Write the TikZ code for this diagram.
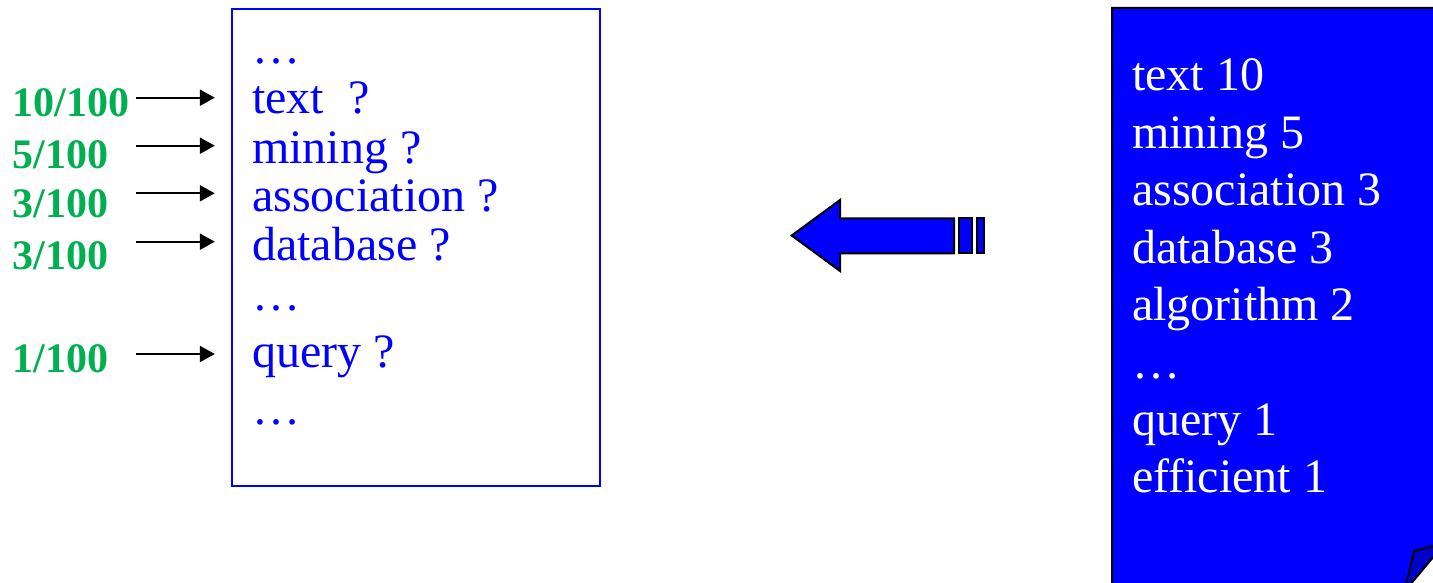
\documentclass[tikz,border=0pt]{standalone}
\usepackage{fontspec}
\setmainfont{Liberation Serif}
\usepackage{tikz}
\usetikzlibrary{arrows.meta,positioning,calc}
\definecolor{wordBlue}{RGB}{0, 0, 255}
\definecolor{foldBlue}{RGB}{0, 0, 200}
\definecolor{freqGreen}{RGB}{0, 176, 80}

\tikzset{
  word/.style={anchor=base west, inner sep=0pt, text=wordBlue, font=\fontsize{48pt}{48pt}\selectfont},
  count/.style={anchor=base west, inner sep=0pt, text=white, font=\fontsize{48pt}{48pt}\selectfont},
  prob/.style={anchor=base west, inner sep=0pt, text=freqGreen, font=\fontsize{42pt}{42pt}\selectfont\bfseries},
  ptr/.style={draw=black, line width=2.3pt, -{Triangle[length=15pt,width=16pt]}},
}

\begin{document}
\begin{tikzpicture}[x=1pt, y=-1pt]
  \useasboundingbox (0,0) rectangle (1433,583);
  \begin{scope}
    \clip (0,0) rectangle (1433,583);

    % vocabulary box
    \draw[wordBlue, line width=1.6pt] (232,9) rectangle (600,486);
    \node (box) at (416,247.5) [minimum width=368pt, minimum height=477pt, inner sep=0pt] {};

    \node[word] (d1) at (252,64) {…};
    \node[word] (w1) at (252,113.3) {text\ \ ?};
    \node[word] (w2) at (252,163.3) {mining ?};
    \node[word] (w3) at (252,211.7) {association ?};
    \node[word] (w4) at (252,260) {database ?};
    \node[word] (d2) at (252,310) {…};
    \node[word] (w5) at (252,367) {query ?};
    \node[word] (d3) at (252,424) {…};

    % estimated probabilities
    \node[prob] (p1) at (12.5,116.7) {10/100};
    \node[prob] (p2) at (12.5,168) {5/100};
    \node[prob] (p3) at (12.5,218) {3/100};
    \node[prob] (p4) at (12.5,269) {3/100};
    \node[prob] (p5) at (12.5,372) {1/100};

    \coordinate (s1) at (136,97.7);
    \coordinate (s2) at (136,145.7);
    \coordinate (s3) at (136,193.3);
    \coordinate (s4) at (136,241.7);
    \coordinate (s5) at (136,354);
    \draw[ptr] (s1) -- (s1 -| box.west) [shorten >=17pt];
    \draw[ptr] (s2) -- (s2 -| box.west) [shorten >=17pt];
    \draw[ptr] (s3) -- (s3 -| box.west) [shorten >=17pt];
    \draw[ptr] (s4) -- (s4 -| box.west) [shorten >=17pt];
    \draw[ptr] (s5) -- (s5 -| box.west) [shorten >=17pt];

    % block arrow
    \draw[fill=wordBlue, line width=2pt, line join=miter]
      (791.7,235.5) -- (840,200) -- (840,218.3) -- (954,218.3) -- (954,253.3)
      -- (840,253.3) -- (840,271) -- cycle;
    \draw[fill=wordBlue, line width=2pt] (959.3,218.3) rectangle (972,253.3);
    \draw[fill=wordBlue, line width=2pt] (977.3,218.3) rectangle (984,253.3);

    % document with word counts
    \draw[fill=wordBlue, line width=2pt]
      (1112,8) -- (1445,8) -- (1445,540) -- (1404,592) -- (1112,592) -- cycle;
    \draw[fill=foldBlue, line width=2pt, line join=round]
      (1404,592) -- (1414.3,551) -- (1445,543) -- cycle;

    \node[count] (c1) at (1132,91) {text 10};
    \node[count] (c2) at (1132,148.4) {mining 5};
    \node[count] (c3) at (1132,205.8) {association 3};
    \node[count] (c4) at (1132,263.2) {database 3};
    \node[count] (c5) at (1132,320.6) {algorithm 2};
    \node[count] (c6) at (1132,378) {…};
    \node[count] (c7) at (1132,435.4) {query 1};
    \node[count] (c8) at (1132,492.8) {efficient 1};
  \end{scope}
\end{tikzpicture}
\end{document}
